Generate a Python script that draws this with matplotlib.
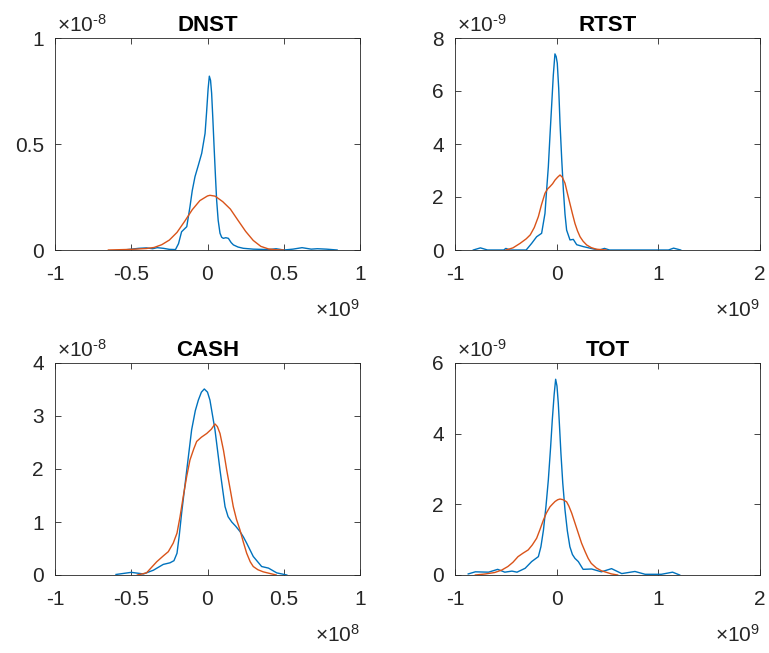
import numpy as np
import matplotlib as mpl
import matplotlib.pyplot as plt
mpl.rcParams['font.family'] = 'Liberation Sans'
mpl.rcParams['mathtext.fontset'] = 'custom'
mpl.rcParams['mathtext.rm'] = 'Liberation Sans'

# Kernel density estimates (x scaled, y scaled)
# DNST: x in 1e9, y in 1e-8
dnst_x_emp = [-0.55, -0.5, -0.45, -0.4, -0.36, -0.33, -0.29, -0.25, -0.21, -0.19, -0.17, -0.136,
              -0.115, -0.1, -0.082, -0.06, -0.038, -0.016, -0.006, 0.004, 0.012, 0.02, 0.027,
              0.035, 0.043, 0.052, 0.06, 0.07, 0.082, 0.093, 0.104, 0.12, 0.137, 0.155, 0.17,
              0.2, 0.235, 0.3, 0.4, 0.45, 0.5, 0.56, 0.62, 0.68, 0.72, 0.78, 0.85]
dnst_y_emp = [0.0, 0.004, 0.008, 0.01, 0.006, 0.011, 0.008, 0.003, 0.002, 0.03, 0.086, 0.11,
              0.204, 0.28, 0.346, 0.4, 0.456, 0.55, 0.65, 0.76, 0.82, 0.8, 0.74,
              0.62, 0.49, 0.35, 0.234, 0.14, 0.079, 0.06, 0.055, 0.058, 0.055, 0.035, 0.024,
              0.014, 0.008, 0.004, 0.002, 0.006, 0.0, 0.004, 0.011, 0.004, 0.006, 0.004, 0.0]
dnst_x_fit = [-0.65, -0.6, -0.55, -0.5, -0.45, -0.4, -0.35, -0.3, -0.25, -0.2, -0.15, -0.1,
              -0.05, 0.0, 0.016, 0.05, 0.1, 0.15, 0.2, 0.25, 0.3, 0.35, 0.4, 0.45, 0.5]
dnst_y_fit = [0.0, 0.001, 0.002, 0.003, 0.005, 0.007, 0.012, 0.025, 0.047, 0.083, 0.135, 0.19,
              0.233, 0.255, 0.258, 0.254, 0.228, 0.193, 0.14, 0.088, 0.045, 0.017, 0.005, 0.001, 0.0]

# RTST: x in 1e9, y in 1e-9
rtst_x_emp = [-0.82, -0.75, -0.68, -0.6, -0.52, -0.5, -0.46, -0.3, -0.246, -0.197, -0.148, -0.115,
              -0.1, -0.082, -0.066, -0.05, -0.033, -0.017, -0.005, 0.006, 0.02, 0.033, 0.05,
              0.066, 0.082, 0.098, 0.131, 0.164, 0.197, 0.26, 0.36, 0.42, 0.47, 0.52, 0.8,
              1.1, 1.15, 1.22]
rtst_y_emp = [0.0, 0.08, 0.0, 0.0, 0.0, 0.06, 0.0, 0.0, 0.25, 0.5, 0.63, 1.38,
              2.2, 3.14, 4.3, 5.41, 6.6, 7.4, 7.3, 7.05, 6.1, 4.78, 3.4,
              2.26, 1.35, 0.75, 0.38, 0.4, 0.2, 0.13, 0.04, 0.0, 0.06, 0.0, 0.0,
              0.0, 0.07, 0.0]
rtst_x_fit = [-0.5, -0.43, -0.36, -0.3, -0.26, -0.22, -0.18, -0.15, -0.115, -0.09, -0.066, -0.04,
              -0.016, 0.01, 0.033, 0.055, 0.082, 0.105, 0.13, 0.155, 0.18, 0.205, 0.23, 0.26,
              0.295, 0.34, 0.39, 0.49]
rtst_y_fit = [0.0, 0.08, 0.25, 0.42, 0.57, 0.85, 1.26, 1.7, 2.14, 2.3, 2.39, 2.5,
              2.64, 2.75, 2.83, 2.75, 2.52, 2.15, 1.76, 1.37, 1.0, 0.72, 0.5, 0.33,
              0.19, 0.09, 0.03, 0.0]

# CASH: x in 1e8, y in 1e-8
cash_x_emp = [-0.6, -0.5, -0.42, -0.355, -0.29, -0.246, -0.22, -0.2, -0.185, -0.17, -0.136,
              -0.104, -0.08, -0.06, -0.04, -0.021, 0.0, 0.016, 0.049, 0.082, 0.1, 0.115, 0.135,
              0.159, 0.185, 0.213, 0.235, 0.257, 0.3, 0.355, 0.4, 0.454, 0.52]
cash_y_emp = [0.01, 0.05, 0.02, 0.09, 0.2, 0.23, 0.27, 0.41, 0.75, 1.16, 1.98,
              2.74, 3.1, 3.3, 3.45, 3.51, 3.45, 3.3, 2.74, 1.98, 1.6, 1.29, 1.1,
              1.0, 0.92, 0.82, 0.72, 0.6, 0.35, 0.16, 0.13, 0.04, 0.0]
cash_x_fit = [-0.46, -0.4, -0.333, -0.29, -0.257, -0.225, -0.2, -0.18, -0.159, -0.137, -0.115,
              -0.09, -0.071, -0.04, -0.005, 0.025, 0.049, 0.065, 0.082, 0.105, 0.126, 0.148,
              0.169, 0.19, 0.213, 0.235, 0.257, 0.28, 0.3, 0.33, 0.365, 0.45]
cash_y_fit = [0.0, 0.04, 0.25, 0.36, 0.44, 0.6, 0.79, 1.1, 1.48, 1.85, 2.17,
              2.38, 2.52, 2.6, 2.67, 2.75, 2.85, 2.8, 2.67, 2.35, 1.98, 1.63,
              1.29, 1.05, 0.85, 0.62, 0.41, 0.25, 0.16, 0.1, 0.06, 0.0]

# TOT: x in 1e9, y in 1e-9
tot_x_emp = [-0.87, -0.8, -0.67, -0.58, -0.51, -0.44, -0.39, -0.31, -0.246, -0.18, -0.155, -0.13,
             -0.105, -0.082, -0.06, -0.043, -0.025, -0.01, 0.003, 0.016, 0.03, 0.042, 0.06,
             0.082, 0.105, 0.13, 0.155, 0.18, 0.213, 0.26, 0.344, 0.44, 0.54, 0.64, 0.77,
             0.87, 1.03, 1.14, 1.21]
tot_y_emp = [0.03, 0.09, 0.08, 0.16, 0.08, 0.11, 0.08, 0.19, 0.38, 0.52, 0.8, 1.27,
             1.95, 2.69, 3.6, 4.39, 5.1, 5.54, 5.35, 4.86, 4.1, 3.44, 2.6,
             1.84, 1.25, 0.8, 0.58, 0.47, 0.38, 0.16, 0.17, 0.09, 0.18, 0.04, 0.1,
             0.02, 0.02, 0.08, 0.0]
tot_x_fit = [-0.8, -0.7, -0.61, -0.54, -0.48, -0.43, -0.38, -0.33, -0.28, -0.24, -0.197, -0.165,
             -0.13, -0.1, -0.066, -0.04, -0.016, 0.01, 0.033, 0.065, 0.098, 0.12, 0.148, 0.18,
             0.213, 0.245, 0.28, 0.31, 0.34, 0.39, 0.44, 0.54, 0.6]
tot_y_fit = [0.0, 0.03, 0.07, 0.14, 0.24, 0.36, 0.52, 0.62, 0.71, 0.85, 1.04, 1.28,
             1.56, 1.76, 1.93, 2.01, 2.08, 2.13, 2.15, 2.13, 2.07, 1.95, 1.75, 1.47,
             1.18, 0.9, 0.66, 0.47, 0.33, 0.2, 0.12, 0.03, 0.0]

panels = [
    ('DNST', dnst_x_emp, dnst_y_emp, dnst_x_fit, dnst_y_fit,
     [-1, -0.5, 0, 0.5, 1], ['-1', '-0.5', '0', '0.5', '1'], (-1, 1),
     [0, 0.5, 1], ['0', '0.5', '1'], (0, 1), '-8', '9'),
    ('RTST', rtst_x_emp, rtst_y_emp, rtst_x_fit, rtst_y_fit,
     [-1, 0, 1, 2], ['-1', '0', '1', '2'], (-1, 2),
     [0, 2, 4, 6, 8], ['0', '2', '4', '6', '8'], (0, 8), '-9', '9'),
    ('CASH', cash_x_emp, cash_y_emp, cash_x_fit, cash_y_fit,
     [-1, -0.5, 0, 0.5, 1], ['-1', '-0.5', '0', '0.5', '1'], (-1, 1),
     [0, 1, 2, 3, 4], ['0', '1', '2', '3', '4'], (0, 4), '-8', '8'),
    ('TOT', tot_x_emp, tot_y_emp, tot_x_fit, tot_y_fit,
     [-1, 0, 1, 2], ['-1', '0', '1', '2'], (-1, 2),
     [0, 2, 4, 6], ['0', '2', '4', '6'], (0, 6), '-9', '9'),
]

W, H = 769, 653
boxes = [(55, 38), (455, 38), (55, 363), (455, 363)]
aw, ah = 305, 212

fig = plt.figure(figsize=(W / 100, H / 100), dpi=100)
txt = '#262626'
for (name, xe, ye, xf, yf, xt, xtl, xl, yt, ytl, yl, yexp, xexp), (px, py) in zip(panels, boxes):
    ax = fig.add_axes([px / W, 1 - (py + ah) / H, aw / W, ah / H])
    ax.plot(xe, ye, color='#0072BD', lw=1.0)
    ax.plot(xf, yf, color='#D95319', lw=1.0)
    ax.set_xlim(*xl)
    ax.set_ylim(*yl)
    ax.set_xticks(xt)
    ax.set_xticklabels(xtl)
    ax.set_yticks(yt)
    ax.set_yticklabels(ytl)
    ax.tick_params(direction='in', length=4, width=0.6, colors=txt, labelsize=15,
                   top=True, right=True)
    ax.tick_params(axis='x', pad=11)
    ax.tick_params(axis='y', pad=8)
    for s in ax.spines.values():
        s.set_color(txt)
        s.set_linewidth(0.6)
    ax.set_title(name, fontsize=16, fontweight='bold', pad=5, color='black')
    # exponent labels, MATLAB style (plain hyphen in the superscript)
    ax.text(0.005, 1.028, r'$\times\mathregular{10^{\text{%s}}}$' % yexp, transform=ax.transAxes,
            fontsize=15, color=txt, ha='left', va='baseline')
    ax.text(1.0, -0.316, r'$\times\mathregular{10^{%s}}$' % xexp, transform=ax.transAxes,
            fontsize=15, color=txt, ha='right', va='baseline')

fig.savefig('out.png', dpi=100)
